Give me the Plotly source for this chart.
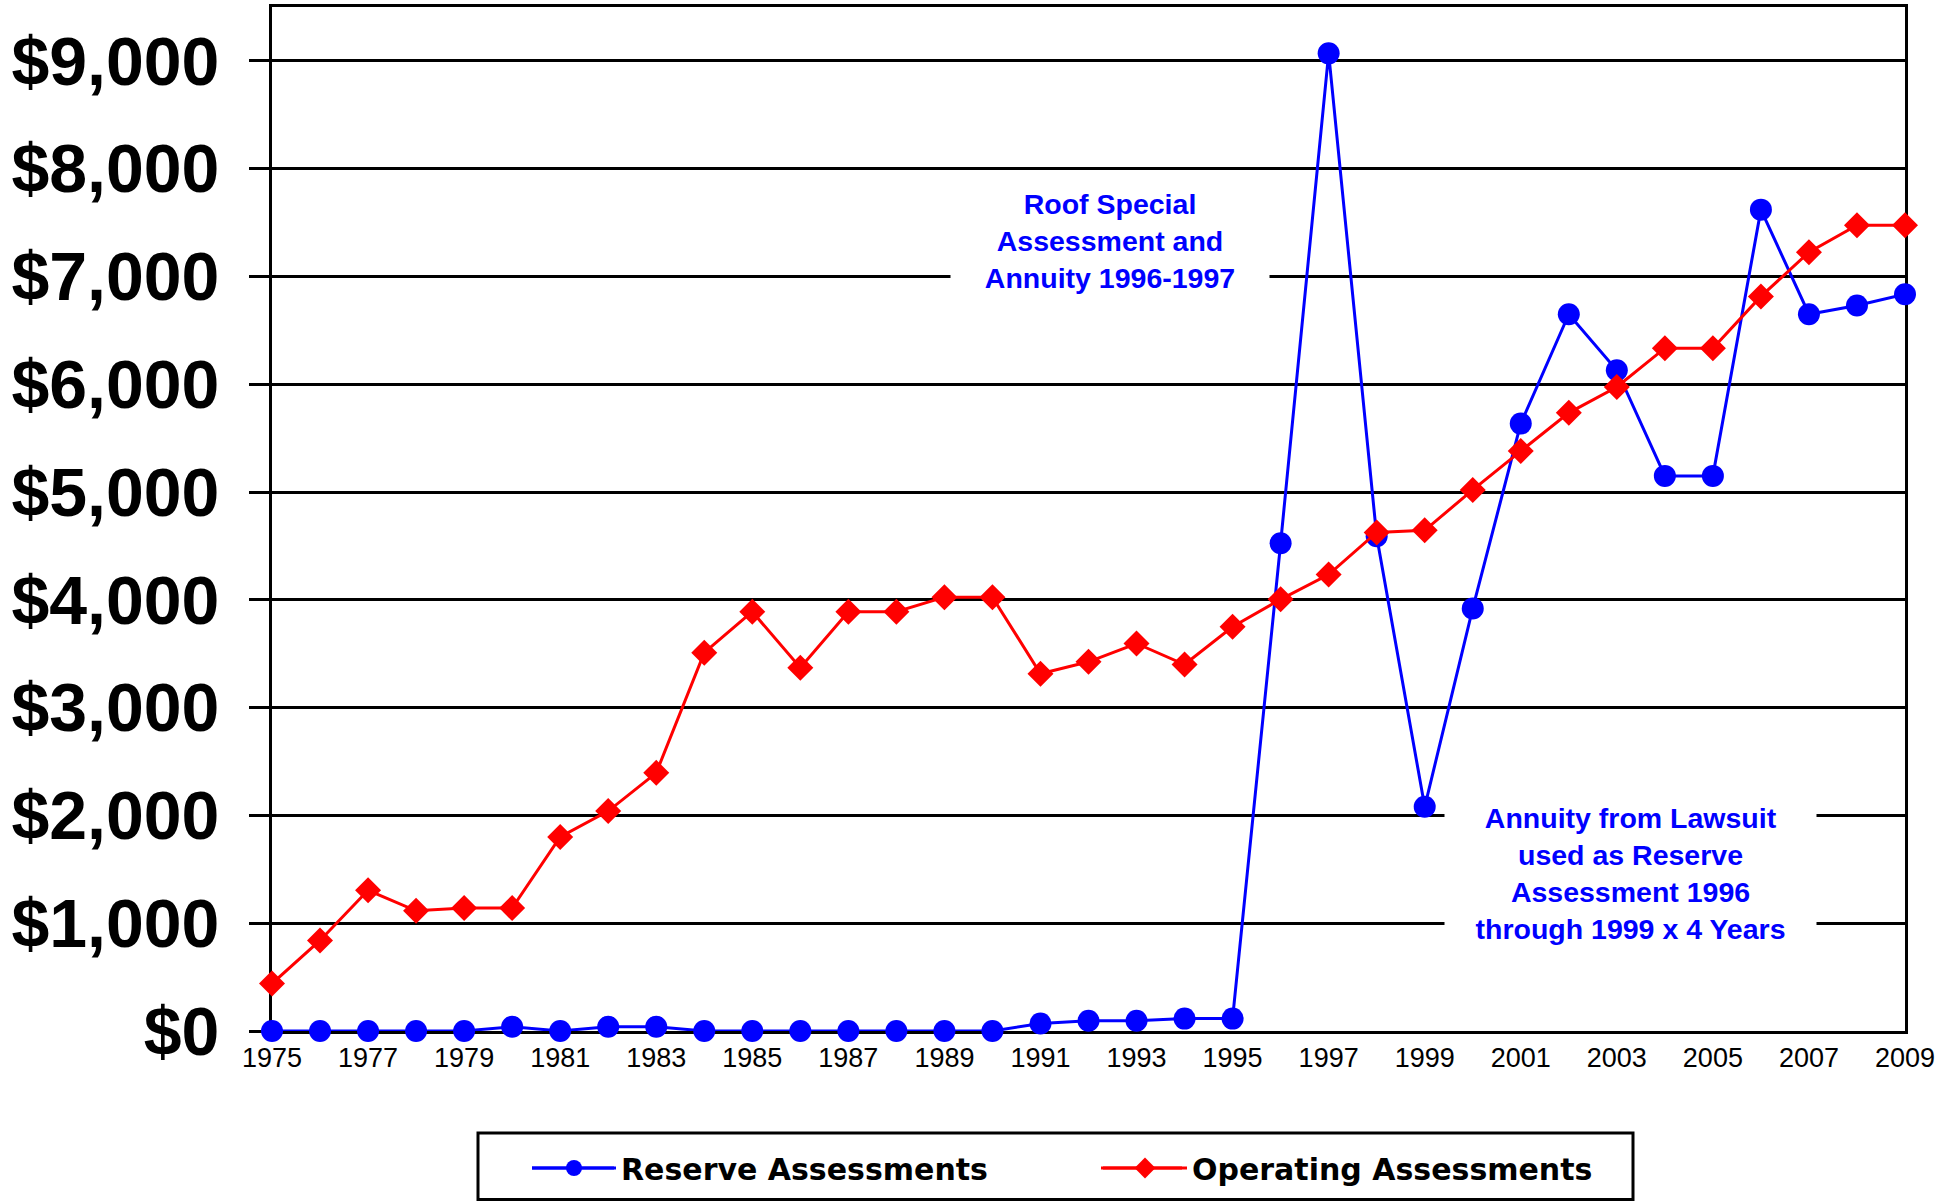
import plotly.graph_objects as go

years = list(range(1975, 2010))

reserve = [0, 0, 0, 0, 0, 40, 0, 40, 40, 0,
           0, 0, 0, 0, 0, 0, 70, 95, 95, 115,
           115, 4525, 9070, 4590, 2080, 3920, 5635, 6650, 6130, 5150,
           5150, 7620, 6650, 6730, 6835]

operating = [440, 840, 1305, 1115, 1140, 1140, 1800, 2040, 2395, 3510,
             3890, 3370, 3890, 3890, 4025, 4025, 3315, 3425, 3595, 3400,
             3750, 4005, 4235, 4625, 4645, 5020, 5380, 5735, 5975, 6335,
             6335, 6815, 7225, 7475, 7475]

x_ticks = list(range(1975, 2010, 2))
y_ticks = list(range(0, 10000, 1000))

series_names = ["Reserve Assessments", "Operating Assessments"]
series_colors = ["#0000FF", "#FF0000"]

note1 = "Roof Special<br>Assessment and<br>Annuity 1996-1997"
note2 = "Annuity from Lawsuit<br>used as Reserve<br>Assessment 1996<br>through 1999 x 4 Years"

W, H = 1956, 1201
ML, MR, MT, MB = 272, 51, 7, 170
PW = W - ML - MR
PH = H - MT - MB


def px_x(p):
    return (p - ML) / PW


def px_y(p):
    return (H - MB - p) / PH


fig = go.Figure()
fig.add_trace(go.Scatter(
    x=years, y=reserve, name=series_names[0], mode="lines+markers",
    line=dict(color=series_colors[0], width=3),
    marker=dict(symbol="circle", size=22, color=series_colors[0]),
    cliponaxis=False,
))
fig.add_trace(go.Scatter(
    x=years, y=operating, name=series_names[1], mode="lines+markers",
    line=dict(color=series_colors[1], width=3),
    marker=dict(symbol="diamond", size=20, color=series_colors[1]),
    cliponaxis=False,
))

ann_font = dict(family="Liberation Sans, Arial, sans-serif", size=28.5, color="#0000FF", weight="bold")
fig.add_annotation(x=1992.45, y=7330, xref="x", yref="y", text=note1, showarrow=False,
                   font=ann_font, bgcolor="white", width=310, borderpad=4, align="center")
fig.add_annotation(x=2003.28, y=1460, xref="x", yref="y", text=note2, showarrow=False,
                   font=ann_font, bgcolor="white", width=363, borderpad=4, align="center")

# legend frame
fig.add_shape(type="rect", xref="paper", yref="paper",
              x0=px_x(478), x1=px_x(1633), y0=px_y(1199.5), y1=px_y(1133),
              line=dict(color="black", width=3), fillcolor="rgba(0,0,0,0)", layer="above")
# longer legend key lines (decoration behind the native legend symbols)
for (a, b), c in zip([(532, 614), (1101, 1182)], series_colors):
    fig.add_shape(type="line", xref="paper", yref="paper",
                  x0=px_x(a), x1=px_x(b), y0=px_y(1168), y1=px_y(1168),
                  line=dict(color=c, width=3), layer="above")

fig.update_layout(
    width=W, height=H,
    margin=dict(l=ML, r=MR, t=MT, b=MB, autoexpand=False),
    paper_bgcolor="white", plot_bgcolor="white",
    showlegend=True,
    legend=dict(orientation="h", x=px_x(527), xanchor="left", y=px_y(1168), yanchor="middle",
                itemwidth=84, entrywidth=472, entrywidthmode="pixels",
                bgcolor="rgba(0,0,0,0)", borderwidth=0,
                font=dict(family="DejaVu Sans, sans-serif", size=30, color="black", weight="bold")),
    xaxis=dict(range=[1975, 2009], tickvals=x_ticks, ticktext=[str(v) for v in x_ticks],
               showgrid=False, zeroline=False, showline=True, linecolor="black", linewidth=3,
               mirror=True, ticks="", ticklabelstandoff=1, layer="below traces",
               tickfont=dict(family="Liberation Sans, Arial, sans-serif", size=27, color="black")),
    yaxis=dict(range=[0, 9500], tickvals=y_ticks, tickformat="$,.0f",
               showgrid=True, gridcolor="black", gridwidth=2.5, zeroline=False,
               showline=True, linecolor="black", linewidth=3, mirror=True,
               ticks="outside", ticklen=20, tickwidth=3, tickcolor="black",
               ticklabelstandoff=16, layer="below traces",
               tickfont=dict(family="Liberation Sans, Arial, sans-serif", size=68, color="black", weight="bold")),
)

fig.write_html("out.html")
